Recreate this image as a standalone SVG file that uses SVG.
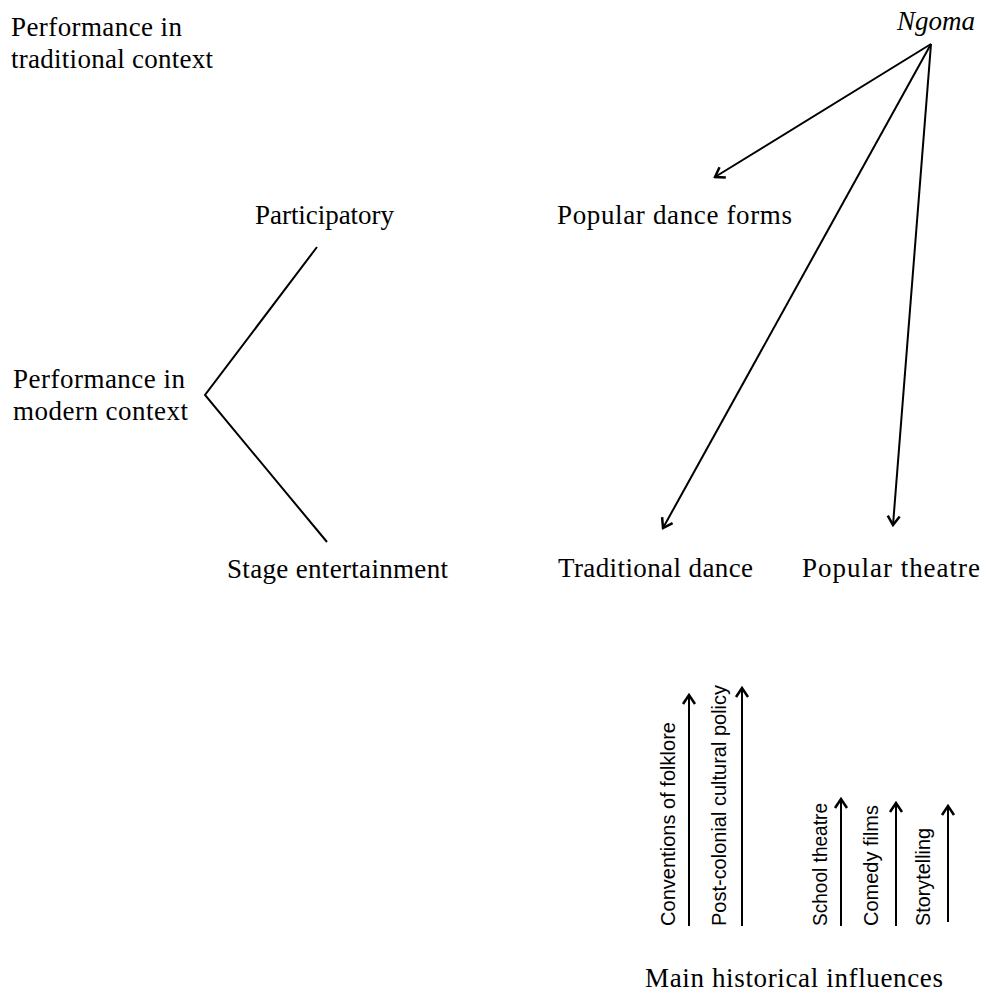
<svg xmlns="http://www.w3.org/2000/svg" width="984" height="996" viewBox="0 0 984 996">
<style>
text { fill: #000; }
.serif { font-family: "Liberation Serif", "Times New Roman", serif; font-size: 27px; }
.ital { font-style: italic; }
.sans { font-family: "Liberation Sans", Arial, sans-serif; font-size: 21px; }
.ln { stroke: #000; stroke-width: 2; fill: none; }
</style>
<defs>
<marker id="arr" viewBox="-11 -8 13 16" markerWidth="13" markerHeight="16" refX="0" refY="0" markerUnits="userSpaceOnUse" orient="auto">
<path d="M-9,-6 L0,0 L-9,6" fill="none" stroke="#000" stroke-width="2.5"/>
</marker>
</defs>
<rect width="984" height="996" fill="#fff"/>

<g id="trad-context">
<text class="serif" x="11" y="36" textLength="171" lengthAdjust="spacing">Performance in</text>
<text class="serif" x="11" y="68" textLength="202" lengthAdjust="spacing">traditional context</text>
</g>
<g id="ngoma">
<text class="serif ital" x="897" y="30" textLength="78" lengthAdjust="spacing">Ngoma</text>
</g>
<g id="participatory">
<text class="serif" x="255" y="224" textLength="139" lengthAdjust="spacing">Participatory</text>
</g>
<g id="popular-dance">
<text class="serif" x="557" y="224" textLength="235" lengthAdjust="spacing">Popular dance forms</text>
</g>
<g id="modern-context">
<text class="serif" x="13" y="388" textLength="172" lengthAdjust="spacing">Performance in</text>
<text class="serif" x="13" y="420" textLength="175" lengthAdjust="spacing">modern context</text>
</g>
<g id="stage">
<text class="serif" x="227" y="578" textLength="221" lengthAdjust="spacing">Stage entertainment</text>
</g>
<g id="traditional-dance">
<text class="serif" x="558" y="577" textLength="195" lengthAdjust="spacing">Traditional dance</text>
</g>
<g id="popular-theatre">
<text class="serif" x="802" y="577" textLength="178" lengthAdjust="spacing">Popular theatre</text>
</g>
<g id="influences">
<text class="sans" transform="translate(675,926) rotate(-90)" textLength="204" lengthAdjust="spacingAndGlyphs">Conventions of folklore</text>
<text class="sans" transform="translate(725.5,926) rotate(-90)" textLength="241" lengthAdjust="spacingAndGlyphs">Post-colonial cultural policy</text>
<text class="sans" transform="translate(826.5,926) rotate(-90)" textLength="123" lengthAdjust="spacingAndGlyphs">School theatre</text>
<text class="sans" transform="translate(878,926) rotate(-90)" textLength="121" lengthAdjust="spacingAndGlyphs">Comedy films</text>
<text class="sans" transform="translate(930,926) rotate(-90)" textLength="98" lengthAdjust="spacingAndGlyphs">Storytelling</text>
</g>
<g id="main-influences">
<text class="serif" x="645" y="987" textLength="298" lengthAdjust="spacing">Main historical influences</text>
</g>

<g id="connectors">
<polyline class="ln" points="317,247 205,395 327,542"/>
<line class="ln" x1="931" y1="44" x2="715" y2="177" marker-end="url(#arr)"/>
<line class="ln" x1="931" y1="44" x2="663" y2="528" marker-end="url(#arr)"/>
<line class="ln" x1="931" y1="44" x2="893" y2="525" marker-end="url(#arr)"/>
<line class="ln" x1="689" y1="926" x2="689" y2="695" marker-end="url(#arr)"/>
<line class="ln" x1="742" y1="926" x2="742" y2="688" marker-end="url(#arr)"/>
<line class="ln" x1="841" y1="926" x2="841" y2="799" marker-end="url(#arr)"/>
<line class="ln" x1="896" y1="926" x2="896" y2="803" marker-end="url(#arr)"/>
<line class="ln" x1="948" y1="922" x2="948" y2="806" marker-end="url(#arr)"/>
</g>
</svg>
